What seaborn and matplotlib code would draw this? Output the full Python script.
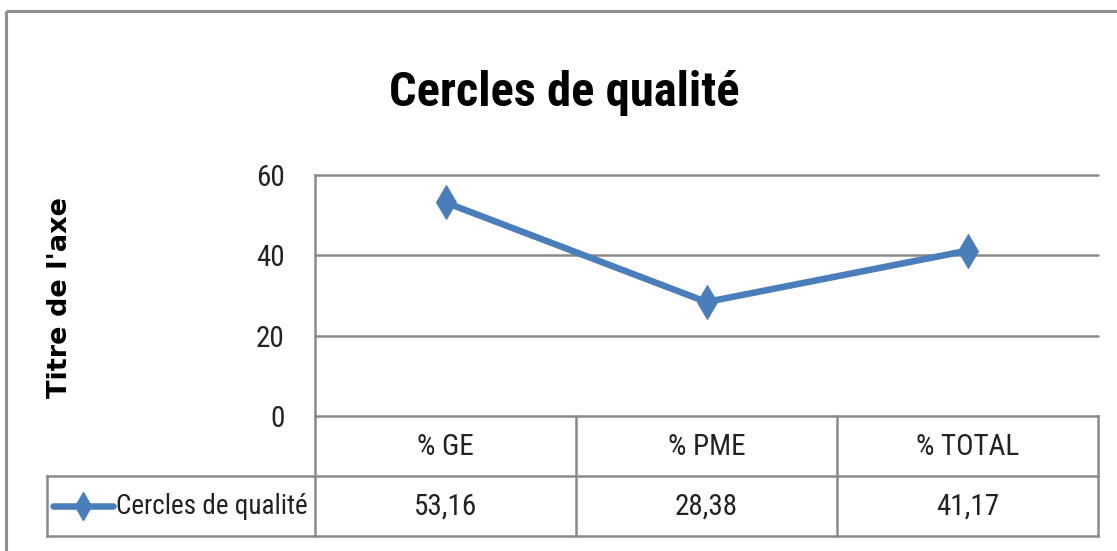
import numpy as np
import pandas as pd
import matplotlib
matplotlib.use("Agg")
import matplotlib.pyplot as plt
from matplotlib import font_manager as fm
import seaborn as sns

# Data
categories = ["% GE", "% PME", "% TOTAL"]
values = [53.16, 28.38, 41.17]
series_name = "Cercles de qualité"
y_ticks = [0, 20, 40, 60]
chart_title = "Cercles de qualité"
y_label = "Titre de l'axe"

LINE_COLOR = "#4A7EBB"
GRID_COLOR = "#8a8a8a"
BORDER_COLOR = "#8a8a8a"
TEXT_COLOR = "#222222"


def first_installed(candidates, default="DejaVu Sans"):
    names = {f.name for f in fm.fontManager.ttflist}
    for c in candidates:
        if c in names:
            return c
    return default


NARROW = first_installed(["Roboto Condensed", "Open Sans Condensed", "PT Sans Narrow",
                          "Fira Sans Condensed", "Archivo Narrow",
                          "Liberation Sans Narrow", "Carlito", "Lato"])

sns.set_theme(style="white")
plt.rcParams["font.family"] = [NARROW, "DejaVu Sans"]

W, H = 1117, 551
fig = plt.figure(figsize=(W / 100, H / 100), dpi=100)


def px_rect(x0, y0, x1, y1):
    """Axes rectangle in figure fractions from a pixel box (top-left origin)."""
    return [x0 / W, 1 - y1 / H, (x1 - x0) / W, (y1 - y0) / H]


# Plot area geometry (pixels)
PLOT_L, PLOT_R, PLOT_T, PLOT_B = 315, 1098, 175, 416
LEG_L = 47
ROW1_B, ROW2_B = 476, 536

ax = fig.add_axes(px_rect(PLOT_L, PLOT_T, PLOT_R, PLOT_B))
df = pd.DataFrame({"pos": np.arange(len(categories)), "val": values})
sns.lineplot(data=df, x="pos", y="val", ax=ax, color=LINE_COLOR, linewidth=4.7,
             marker="d", markersize=17, markeredgecolor=LINE_COLOR,
             markerfacecolor=LINE_COLOR, zorder=5)
ax.set_xlim(-0.5, len(categories) - 0.5)
ax.set_ylim(y_ticks[0], y_ticks[-1])
ax.set_yticks(y_ticks)
ax.set_yticklabels([str(t) for t in y_ticks])
ax.set_xticks([])
ax.set_xlabel("")
ax.set_ylabel("")
ax.tick_params(axis="y", length=0, pad=22, labelsize=21, labelcolor=TEXT_COLOR)
for t in y_ticks[1:]:
    ax.axhline(t, color=GRID_COLOR, lw=1.8, zorder=1, clip_on=False)
for side in ["top", "right"]:
    ax.spines[side].set_visible(False)
for side in ["left", "bottom"]:
    ax.spines[side].set_color(BORDER_COLOR)
    ax.spines[side].set_linewidth(1.8)

# Overlay in pixel coordinates for titles, data table and chart border
ov = fig.add_axes([0, 0, 1, 1], facecolor="none")
ov.set_xlim(0, W)
ov.set_ylim(H, 0)
ov.axis("off")

# Chart area border (top and left visible)
ov.plot([6, W], [11, 11], color="#909090", lw=2.2, solid_capstyle="butt")
ov.plot([6, 6], [11, H], color="#909090", lw=2.2, solid_capstyle="butt")

ov.text(564, 106, chart_title, ha="center", va="baseline", fontsize=35,
        color="black", fontweight="bold")
ov.text(60, 297, y_label, ha="center", va="center", rotation=90, fontsize=19.5,
        fontweight="bold", family="DejaVu Sans", color="black")

# Data table
n = len(categories)
col_w = (PLOT_R - PLOT_L) / n
col_edges = [PLOT_L + i * col_w for i in range(n + 1)]
tkw = dict(color=BORDER_COLOR, lw=1.8, solid_capstyle="projecting")
ov.plot([PLOT_L, PLOT_L], [PLOT_B, ROW2_B], **tkw)
ov.plot([PLOT_R, PLOT_R], [PLOT_B, ROW2_B], **tkw)
for xe in col_edges[1:-1]:
    ov.plot([xe, xe], [PLOT_B, ROW2_B], **tkw)
ov.plot([LEG_L, PLOT_R], [ROW1_B, ROW1_B], **tkw)
ov.plot([LEG_L, PLOT_R], [ROW2_B, ROW2_B], **tkw)
ov.plot([LEG_L, LEG_L], [ROW1_B, ROW2_B], **tkw)

for i, (cat, v) in enumerate(zip(categories, values)):
    cx = (col_edges[i] + col_edges[i + 1]) / 2
    ov.text(cx, (PLOT_B + ROW1_B) / 2 + 1, cat, ha="center", va="center",
            fontsize=21, color=TEXT_COLOR)
    ov.text(cx, (ROW1_B + ROW2_B) / 2 + 1, f"{v:.2f}".replace(".", ","),
            ha="center", va="center", fontsize=21, color=TEXT_COLOR)

# Legend key inside the table
ky = (ROW1_B + ROW2_B) / 2
ov.plot([53, 113], [ky, ky], color=LINE_COLOR, lw=4.7, solid_capstyle="round")
ov.plot([83], [ky], marker="d", markersize=14, color=LINE_COLOR)
ov.text(116, ky + 1, series_name, ha="left", va="center", fontsize=19.5,
        color=TEXT_COLOR)

fig.savefig("out.png", dpi=100)
